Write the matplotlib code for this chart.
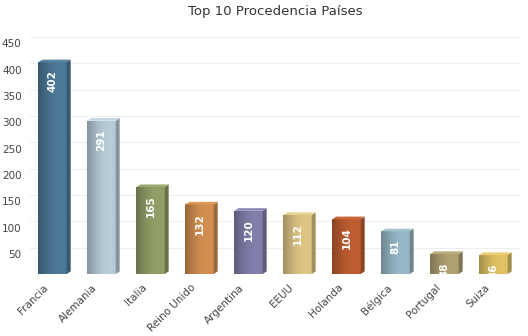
import numpy as np
import matplotlib
matplotlib.use('Agg')
from matplotlib import pyplot as plt
from matplotlib.patches import Rectangle, Polygon
from matplotlib.colors import to_rgb
import matplotlib.transforms as mtransforms

# Chart data
paises = ['Francia', 'Alemania', 'Italia', 'Reino Unido', 'Argentina',
          'EEUU', 'Holanda', 'Bélgica', 'Portugal', 'Suiza']
visitas = [402, 291, 165, 132, 120, 112, 104, 81, 38, 36]
colores = ['#4a7592', '#b1c5d1', '#8c9a64', '#cc8a4e', '#7d7ba6',
           '#d6bf80', '#b85a30', '#92b2c0', '#ab9c6e', '#d9bc62']
yticks = [50, 100, 150, 200, 250, 300, 350, 400, 450]

fig = plt.figure(figsize=(5.28, 3.36), dpi=100)
ax = fig.add_axes([30/528, 62/336, 490/528, 237/336])
ax.set_xlim(-0.5, len(paises) - 0.5)
ax.set_ylim(0, 450)

# Bar geometry (front face + 3D side/top)
w = 0.66
dx = 0.08
dy = 5.0

# horizontal shading profile for the front face
t = np.linspace(0, 1, 64)
shade = 0.75 + 0.35 * np.sin(np.clip(t * 1.2, 0, 1) * np.pi / 2) - 0.08 * t

for i, (v, c) in enumerate(zip(visitas, colores)):
    base = np.array(to_rgb(c))
    x0 = i - w / 2
    x1 = i + w / 2 - dx
    # front face gradient
    img = np.clip(base[None, None, :] * shade[None, :, None], 0, 1)
    im = ax.imshow(img, extent=(x0, x1, 0, v), aspect='auto', zorder=3,
                   interpolation='bilinear')
    rect = Rectangle((x0, 0), x1 - x0, v, transform=ax.transData)
    im.set_clip_path(rect)
    # side face
    side = Polygon([(x1, 0), (x1 + dx, dy), (x1 + dx, v + dy), (x1, v)],
                   closed=True, facecolor=np.clip(base * 0.75, 0, 1),
                   edgecolor='none', zorder=3)
    ax.add_patch(side)
    # top face
    top = Polygon([(x0, v), (x0 + dx, v + dy), (x1 + dx, v + dy), (x1, v)],
                  closed=True, facecolor=np.clip(base * 1.05 + 0.03, 0, 1),
                  edgecolor='none', zorder=3)
    ax.add_patch(top)
    # value label (clipped to the plot area like the original)
    ax.annotate(str(v), xy=((x0 + x1) / 2, v), xytext=(0, -6),
                textcoords='offset points', ha='center', va='top',
                rotation=90, color='white', fontsize=7.5,
                fontweight='bold', zorder=4, clip_on=True)

# grid and axes styling
ax.set_yticks(yticks)
ax.yaxis.grid(True, color='#eeeeee', linewidth=0.8)
ax.set_axisbelow(True)
ax.tick_params(axis='y', length=0, labelsize=7.5, labelcolor='#444444', pad=6)
offset = mtransforms.ScaledTranslation(0, -4.5 / 72, fig.dpi_scale_trans)
for lab in ax.get_yticklabels():
    lab.set_transform(lab.get_transform() + offset)

ax.set_xticks(range(len(paises)))
ax.set_xticklabels(paises, rotation=45, ha='right', rotation_mode='anchor')
ax.tick_params(axis='x', length=0, labelsize=7.5, labelcolor='#444444', pad=6)
xoff = mtransforms.ScaledTranslation(-8 / 72, 0, fig.dpi_scale_trans)
for lab in ax.get_xticklabels():
    lab.set_transform(lab.get_transform() + xoff)
for s in ax.spines.values():
    s.set_visible(False)

fig.text(275/528, 1 - 12/336, 'Top 10 Procedencia Países', ha='center',
         va='center', fontsize=9.5, color='#333333')

fig.savefig('out.png', dpi=100)
